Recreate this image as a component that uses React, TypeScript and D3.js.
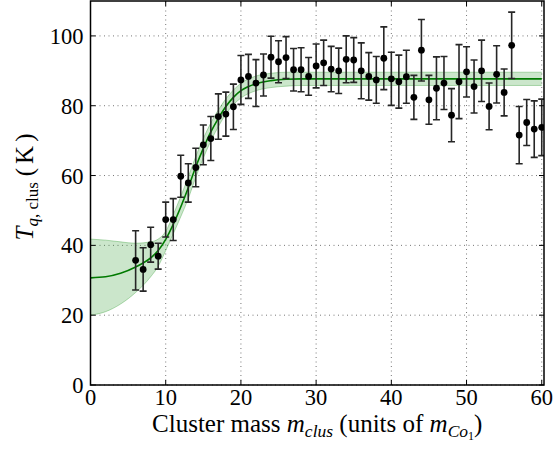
import React from "react";
import * as d3 from "d3";

const massX = d3.range(6, 61);
const tempY = [35.7, 33.1, 40.2, 36.9, 47.4, 47.4, 59.8, 57.9, 62.3, 68.8, 70.6, 76.9, 77.6, 79.7, 87.4, 88.4, 86.5, 88.8, 93.9, 92.6, 93.8, 90.3, 90.3, 88.4, 91.4, 92.3, 90.5, 90, 93.3, 93.1, 90, 88.4, 87.4, 93.6, 87.7, 86.9, 88.3, 82.4, 95.9, 81.7, 85, 86.5, 77.3, 86.9, 89.7, 85.5, 90, 79.8, 89, 83.8, 97.3, 71.6, 75.2, 73.3, 73.8];
const tempErr = [8.5, 6.2, 5, 3.7, 5, 6, 6, 5.5, 5.5, 5.7, 6.3, 6.5, 6.3, 6.5, 7, 6.3, 6.7, 6, 6, 6, 6, 6.1, 6.3, 5.4, 6.3, 6.5, 6.5, 6.5, 6.7, 6.4, 8, 6.8, 6.7, 9, 7.6, 7.6, 7.6, 6.3, 8.8, 7, 9, 7.6, 7.6, 10.6, 7.2, 7.6, 8.8, 6.7, 8.2, 6.7, 9.5, 8.2, 6.6, 8.1, 8.1];

const fitX = [0, 2, 4, 6, 8, 9, 10, 11, 12, 13, 14, 15, 16, 17, 18, 19, 20, 22, 24, 26, 28, 30, 35, 40, 45, 50, 55, 60];
const fitY = [30.7, 31.0, 32.0, 33.8, 36.4, 38.5, 41.7, 46.0, 51.0, 56.5, 62.5, 67.8, 72.5, 76.4, 79.8, 82.4, 84.3, 86.3, 87.2, 87.6, 87.7, 87.7, 87.7, 87.7, 87.7, 87.7, 87.7, 87.7];
const fitUpper = [41.8, 41.5, 41.0, 40.6, 41.0, 41.8, 44.0, 48.8, 54.0, 59.6, 65.5, 70.6, 75.1, 78.8, 82.0, 84.5, 86.4, 88.5, 89.3, 89.6, 89.6, 89.6, 89.6, 89.6, 89.6, 89.6, 89.6, 89.6];
const fitLower = [20.0, 21.0, 23.2, 26.5, 31.0, 34.0, 38.5, 43.3, 48.2, 53.4, 59.5, 65.0, 69.9, 74.0, 77.6, 80.3, 82.2, 84.3, 85.2, 85.6, 85.8, 85.8, 85.8, 85.8, 85.8, 85.8, 85.8, 85.8];

const xTicks = [0, 10, 20, 30, 40, 50, 60];
const yTicks = [0, 20, 40, 60, 80, 100];

const W = 555, H = 453;
const L = 90.5, R = 544, T = 1, B = 385;
const FONT = "'Liberation Serif', 'DejaVu Serif', serif";

export default function App() {
  const x = d3.scaleLinear().domain([0, 60.3]).range([L, R]);
  const y = d3.scaleLinear().domain([0, 110]).range([B, T]);

  const idx = fitX.map((_, i) => i);
  const area = d3.area<number>()
    .x((i) => x(fitX[i]))
    .y0((i) => y(fitLower[i]))
    .y1((i) => y(fitUpper[i]))
    .curve(d3.curveMonotoneX);
  const upperLine = d3.line<number>().x((i) => x(fitX[i])).y((i) => y(fitUpper[i])).curve(d3.curveMonotoneX);
  const lowerLine = d3.line<number>().x((i) => x(fitX[i])).y((i) => y(fitLower[i])).curve(d3.curveMonotoneX);
  const fitLine = d3.line<number>().x((i) => x(fitX[i])).y((i) => y(fitY[i])).curve(d3.curveMonotoneX);

  const cap = 3.5;

  return (
    <svg width={W} height={H} style={{ position: "absolute", left: 0, top: 0, background: "#fff" }} fontFamily={FONT}>
      <defs>
        <clipPath id="plotclip">
          <rect x={L} y={T} width={R - L} height={B - T} />
        </clipPath>
      </defs>
      <rect x={0} y={0} width={W} height={H} fill="#fff" />
      {/* grid */}
      <g stroke="#777" strokeWidth={1} strokeDasharray="1,3.5">
        {xTicks.map((t) => (
          <line key={"gx" + t} x1={x(t)} x2={x(t)} y1={B} y2={T} />
        ))}
        {yTicks.map((t) => (
          <line key={"gy" + t} x1={L} x2={R} y1={y(t)} y2={y(t)} />
        ))}
      </g>
      <g clipPath="url(#plotclip)">
        <path d={area(idx) || ""} fill="#2e9a2e" fillOpacity={0.25} />
        <path d={upperLine(idx) || ""} fill="none" stroke="#2e9a2e" strokeOpacity={0.35} strokeWidth={1} />
        <path d={lowerLine(idx) || ""} fill="none" stroke="#2e9a2e" strokeOpacity={0.35} strokeWidth={1} />
        <path d={fitLine(idx) || ""} fill="none" stroke="#007a00" strokeWidth={1.6} />
        <g stroke="#262626" strokeWidth={1.6}>
          {massX.map((m, i) => {
            const cx = x(m);
            const y1 = y(tempY[i] + tempErr[i]);
            const y0 = y(tempY[i] - tempErr[i]);
            return (
              <g key={"e" + m}>
                <line x1={cx} x2={cx} y1={y1} y2={y0} />
                <line x1={cx - cap} x2={cx + cap} y1={y1} y2={y1} />
                <line x1={cx - cap} x2={cx + cap} y1={y0} y2={y0} />
              </g>
            );
          })}
        </g>
        {massX.map((m, i) => (
          <circle key={"p" + m} cx={x(m)} cy={y(tempY[i])} r={3.4} fill="#000" />
        ))}
      </g>
      {/* frame */}
      <rect x={L} y={T} width={R - L} height={B - T} fill="none" stroke="#000" strokeWidth={1.5} />
      {/* ticks */}
      <g stroke="#000" strokeWidth={1}>
        {xTicks.map((t) => (
          <g key={"tx" + t}>
            <line x1={x(t)} x2={x(t)} y1={B} y2={B - 5} />
            <line x1={x(t)} x2={x(t)} y1={T} y2={T + 5} />
          </g>
        ))}
        {yTicks.map((t) => (
          <g key={"ty" + t}>
            <line x1={L} x2={L + 5} y1={y(t)} y2={y(t)} />
            <line x1={R} x2={R - 5} y1={y(t)} y2={y(t)} />
          </g>
        ))}
      </g>
      {/* tick labels */}
      <g fontSize={22.5} fill="#000">
        {xTicks.map((t) => (
          <text key={"lx" + t} x={x(t)} y={B + 20} textAnchor="middle">
            {t}
          </text>
        ))}
        {yTicks.map((t) => (
          <text key={"ly" + t} x={L - 7} y={y(t) + 8} textAnchor="end">
            {t}
          </text>
        ))}
      </g>
      {/* x label */}
      <text x={(L + R) / 2} y={432} textAnchor="middle" fontSize={25} fill="#000">
        <tspan>Cluster mass </tspan>
        <tspan fontStyle="italic">m</tspan>
        <tspan fontStyle="italic" fontSize={17.5} dy={5}>clus</tspan>
        <tspan dy={-5}> (units of </tspan>
        <tspan fontStyle="italic">m</tspan>
        <tspan fontStyle="italic" fontSize={17.5} dy={5}>Co</tspan>
        <tspan fontSize={12} dy={3}>1</tspan>
        <tspan dy={-8}>)</tspan>
      </text>
      {/* y label */}
      <text transform="translate(33,187) rotate(-90)" textAnchor="middle" fontSize={25} fill="#000">
        <tspan fontStyle="italic">T</tspan>
        <tspan fontStyle="italic" fontSize={17} dy={5}>q</tspan>
        <tspan fontSize={17}>, clus</tspan>
        <tspan dy={-5} dx={6}>(</tspan>
        <tspan dx={4}>K</tspan>
        <tspan dx={4}>)</tspan>
      </text>
    </svg>
  );
}
